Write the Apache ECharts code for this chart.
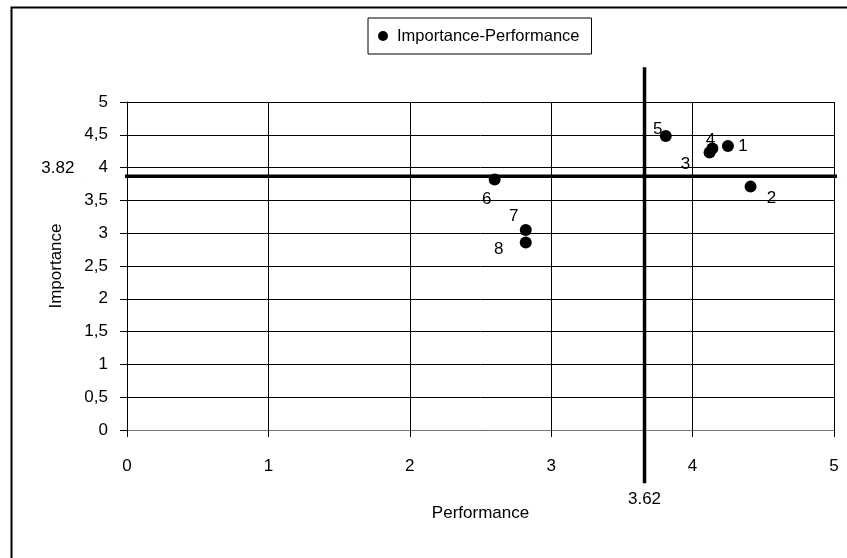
<!DOCTYPE html>
<html>
<head>
<meta charset="utf-8">
<script src="https://cdn.jsdelivr.net/npm/echarts@6/dist/echarts.min.js"></script>
<style>
html,body{margin:0;padding:0;background:#fff;}
#main{width:847px;height:558px;}
</style>
</head>
<body>
<div id="main"></div>
<script>
// ---- data ----
var seriesName = 'Importance-Performance';
var pointLabels = ['1', '2', '3', '4', '5', '6', '7', '8'];
var performance = [4.25, 4.41, 4.12, 4.14, 3.81, 2.60, 2.82, 2.82];
var importance  = [4.33, 3.71, 4.23, 4.29, 4.48, 3.82, 3.05, 2.86];
var meanPerformance = 3.66;   // drawn position of vertical reference line
var meanImportance  = 3.87;   // drawn position of horizontal reference line
var meanPerformanceLabel = '3.62';
var meanImportanceLabel  = '3.82';
var vLineExtent = [-0.81, 5.53];   // y-range of the vertical line
var hLineExtent = [-0.28, 5.09];   // x-range of the horizontal line
var xTicks = [0, 1, 2, 3, 4, 5];
var yTicks = ['0', '0,5', '1', '1,5', '2', '2,5', '3', '3,5', '4', '4,5', '5'];

// ---- label placement (styling, kept separate) ----
var labelOffsets = [[15, 0], [21, 12], [-24, 12], [-2, -8], [-8, -7], [-8, 20], [-12, -14], [-27, 7]];

var FONT = 'Liberation Sans, Arial, sans-serif';

var scatterData = performance.map(function (p, i) {
  return {
    value: [p, importance[i]],
    label: {
      show: true,
      formatter: pointLabels[i],
      position: 'inside',
      offset: labelOffsets[i],
      color: '#000',
      fontSize: 17,
      fontFamily: FONT
    }
  };
});

var chart = echarts.init(document.getElementById('main'), null, {renderer: 'canvas'});
chart.setOption({
  animation: false,
  backgroundColor: '#fff',
  graphic: [{
    type: 'rect',
    shape: {x: 11.5, y: 7.5, width: 900, height: 600},
    style: {fill: null, stroke: '#000', lineWidth: 2},
    silent: true,
    z: -10
  }],
  legend: {
    data: [seriesName],
    left: 368,
    top: 18,
    padding: [9, 12, 9, 10],
    borderColor: '#000',
    borderWidth: 1,
    icon: 'circle',
    itemWidth: 10,
    itemHeight: 10,
    itemStyle: {opacity: 1, color: '#000'},
    textStyle: {color: '#000', fontSize: 16.5, fontFamily: FONT, padding: [0, 0, 0, 4], lineHeight: 18}
  },
  grid: {left: 127, right: 13, top: 102, bottom: 128, containLabel: false},
  xAxis: {
    type: 'value',
    min: 0, max: 5, interval: 1,
    name: 'Performance',
    nameLocation: 'middle',
    nameGap: 75,
    nameTextStyle: {color: '#000', fontSize: 17, fontFamily: FONT},
    axisLine: {show: true, onZero: false, lineStyle: {color: '#777', width: 1}},
    axisTick: {show: true, length: 7, lineStyle: {color: '#000'}},
    axisLabel: {color: '#000', fontSize: 17, fontFamily: FONT, margin: 28,
      formatter: function (v) { return String(xTicks[Math.round(v)]); }},
    splitLine: {show: true, lineStyle: {color: '#000', width: 1}}
  },
  yAxis: {
    type: 'value',
    min: 0, max: 5, interval: 0.5,
    name: 'Importance',
    nameLocation: 'middle',
    nameGap: 62,
    nameRotate: 90,
    nameTextStyle: {color: '#000', fontSize: 17, fontFamily: FONT},
    axisLine: {show: true, onZero: false, lineStyle: {color: '#000', width: 1}},
    axisTick: {show: true, length: 7, lineStyle: {color: '#000'}},
    axisLabel: {color: '#000', fontSize: 17, fontFamily: FONT, margin: 19,
      formatter: function (v) { return yTicks[Math.round(v * 2)]; }},
    splitLine: {show: true, lineStyle: {color: '#000', width: 1}}
  },
  series: [
    {
      name: seriesName,
      type: 'scatter',
      symbol: 'circle',
      symbolSize: 12,
      itemStyle: {color: '#000', opacity: 1},
      data: scatterData,
      z: 5
    },
    {
      name: 'vline',
      type: 'line',
      clip: false,
      silent: true,
      symbol: 'circle',
      symbolSize: 0.1,
      showSymbol: true,
      showAllSymbol: true,
      itemStyle: {color: '#000'},
      lineStyle: {color: '#000', width: 3.5},
      data: [
        {value: [meanPerformance, vLineExtent[0]],
         label: {show: true, formatter: meanPerformanceLabel, position: 'bottom', distance: 8,
                 color: '#000', fontSize: 17, fontFamily: FONT}},
        [meanPerformance, vLineExtent[1]]
      ],
      z: 4
    },
    {
      name: 'hline',
      type: 'line',
      clip: false,
      silent: true,
      symbol: 'circle',
      symbolSize: 0.1,
      showSymbol: true,
      showAllSymbol: true,
      itemStyle: {color: '#000'},
      lineStyle: {color: '#000', width: 3.5},
      data: [
        {value: [hLineExtent[0], meanImportance],
         label: {show: true, formatter: meanImportanceLabel, position: 'left', distance: 13, offset: [0, -8],
                 color: '#000', fontSize: 17, fontFamily: FONT}},
        [hLineExtent[1], meanImportance]
      ],
      z: 4
    }
  ]
});
</script>
</body>
</html>
